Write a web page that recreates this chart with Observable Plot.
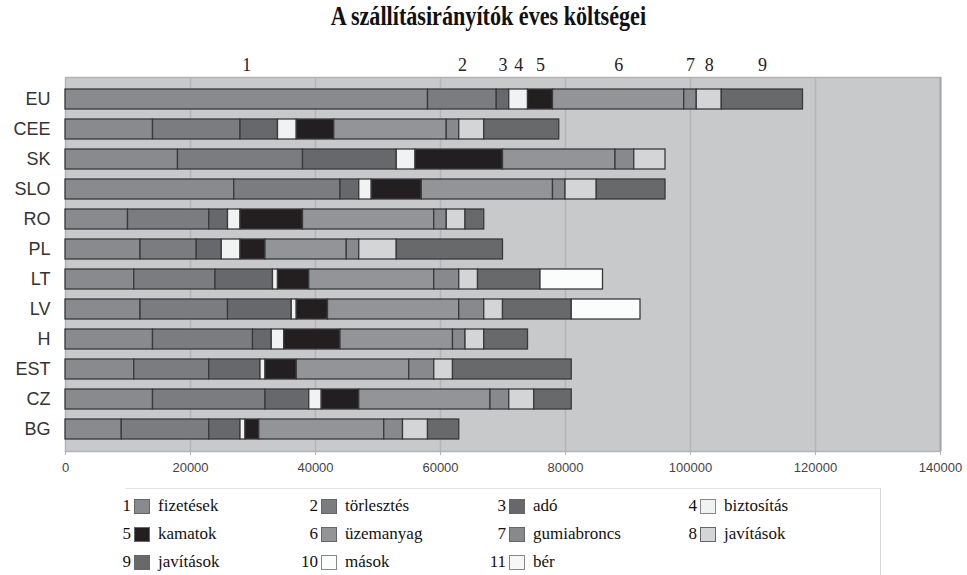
<!DOCTYPE html>
<html>
<head>
<meta charset="utf-8">
<script src="https://cdn.jsdelivr.net/npm/d3@7"></script>
<script src="https://cdn.jsdelivr.net/npm/@observablehq/plot@0.6"></script>
<style>
  body { margin: 0; background: #fff; width: 967px; height: 575px; overflow: hidden; position: relative; }
  #title { position: absolute; left: 0; top: 1px; width: 967px; padding-left: 10px; box-sizing: border-box; text-align: center; }
  #title span { display: inline-block; font-family: "Liberation Serif", serif; font-weight: bold; font-size: 27px; color: #111; transform: scaleX(0.82); }
  #chart { position: absolute; left: 0; top: 36px; }
  #legend { position: absolute; left: 125px; top: 488px; width: 755px; height: 90px; border-top: 1px solid #e2e2e2; border-right: 1px solid #d8d8d8; }
  .num, .lab { position: absolute; font-family: "Liberation Serif", serif; font-size: 17px; color: #111; line-height: 20px; white-space: nowrap; }
  .num { text-align: right; width: 30px; }
  .sw { position: absolute; width: 14px; height: 13px; border: 1px solid #666; }
</style>
</head>
<body>
<div id="title"><span>A szállításirányítók éves költségei</span></div>
<div id="chart"></div>
<div id="legend"></div>
<script>
// ---- data ----
const countries = ["EU", "CEE", "SK", "SLO", "RO", "PL", "LT", "LV", "H", "EST", "CZ", "BG"];
const categoryNums = ["1", "2", "3", "4", "5", "6", "7", "8", "9", "10", "11"];
const categoryLabels = ["fizetések", "törlesztés", "adó", "biztosítás", "kamatok", "üzemanyag", "gumiabroncs", "javítások", "javítások", "mások", "bér"];
const categoryColors = ["#898a8d", "#7b7c7f", "#67686b", "#f1f2f2", "#231f20", "#939497", "#88898c", "#d4d5d6", "#68696b", "#fbfcfc", "#f6f7f7"];

const fizetesek   = [58000, 14000, 18000, 27000, 10000, 12000, 11000, 12000, 14000, 11000, 14000, 9000];
const torlesztes  = [11000, 14000, 20000, 17000, 13000, 9000, 13000, 14000, 16000, 12000, 18000, 14000];
const ado         = [2000, 6000, 15000, 3000, 3000, 4000, 9200, 10200, 3000, 8200, 7000, 5000];
const biztositas  = [3000, 3000, 3000, 2000, 2000, 3000, 800, 800, 2000, 800, 2000, 800];
const kamatok     = [4000, 6000, 14000, 8000, 10000, 4000, 5000, 5000, 9000, 5000, 6000, 2200];
const uzemanyag   = [21000, 18000, 18000, 21000, 21000, 13000, 20000, 21000, 18000, 18000, 21000, 20000];
const gumiabroncs = [2000, 2000, 3000, 2000, 2000, 2000, 4000, 4000, 2000, 4000, 3000, 3000];
const javitasok8  = [4000, 4000, 5000, 5000, 3000, 6000, 3000, 3000, 3000, 3000, 4000, 4000];
const javitasok9  = [13000, 12000, 0, 11000, 3000, 17000, 10000, 11000, 7000, 19000, 6000, 5000];
const masok       = [0, 0, 0, 0, 0, 0, 10000, 11000, 0, 0, 0, 0];
const ber         = [0, 0, 0, 0, 0, 0, 0, 0, 0, 0, 0, 0];

const xTicks = [0, 20000, 40000, 60000, 80000, 100000, 120000, 140000];

// ---- table ----
const series = [fizetesek, torlesztes, ado, biztositas, kamatok, uzemanyag, gumiabroncs, javitasok8, javitasok9, masok, ber];
const rows = [];
countries.forEach((c, ci) => {
  series.forEach((s, si) => {
    rows.push({country: c, key: categoryNums[si], value: s[ci]});
  });
});
const data = rows.filter(d => d.value > 0);
const euData = data.filter(d => d.country === "EU");

const chart = Plot.plot({
  width: 967,
  height: 446,
  marginLeft: 65,
  marginRight: 27,
  marginTop: 41,
  marginBottom: 31,
  style: {fontFamily: "Liberation Sans, Arial, sans-serif", background: "transparent"},
  x: {domain: [0, 140000], label: null, axis: null},
  y: {domain: countries, padding: 0.33, label: null, axis: null},
  color: {domain: categoryNums, range: categoryColors},
  marks: [
    Plot.frame({fill: "#c8c9cb", stroke: null}),
    Plot.gridX(xTicks.slice(1, -1), {stroke: "#b4b5b7", strokeOpacity: 1, strokeWidth: 1.5}),
    Plot.frame({stroke: "#b2b3b5", strokeWidth: 1.5}),
    Plot.ruleX([140000], {stroke: "#a6a7a9", strokeWidth: 2}),
    Plot.barX(data, Plot.stackX({y: "country", x: "value", fill: "key", stroke: "#3a3a3c", strokeWidth: 1.3})),
    Plot.text(euData, Plot.stackX({x: "value", y: "country", text: "key", dy: -34, fontFamily: "Liberation Serif, serif", fontSize: 18, fill: "#222"})),
    Plot.axisX({ticks: xTicks, tickFormat: d => String(d), tickSize: 4, tickPadding: 7, stroke: "#b5b5b5", fill: "#444", fontSize: 13, label: null}),
    Plot.axisY({tickSize: 0, tickPadding: 15, fontSize: 18, fill: "#333", label: null})
  ]
});
document.getElementById("chart").appendChild(chart);

// ---- legend ----
const legend = document.getElementById("legend");
const colX = [9, 196, 384, 575];
const rowY = [7, 35, 63];
categoryNums.forEach((n, i) => {
  const cx = colX[i % 4], ry = rowY[Math.floor(i / 4)];
  const num = document.createElement("div");
  num.className = "num"; num.textContent = n;
  num.style.left = (cx - 33) + "px"; num.style.top = ry + "px";
  const sw = document.createElement("div");
  sw.className = "sw"; sw.style.background = categoryColors[i];
  sw.style.left = cx + "px"; sw.style.top = (ry + 3) + "px";
  if (i === 3 || i >= 9) sw.style.borderColor = "#888";
  const lab = document.createElement("div");
  lab.className = "lab"; lab.textContent = categoryLabels[i];
  lab.style.left = (cx + 24) + "px"; lab.style.top = ry + "px";
  legend.append(num, sw, lab);
});
</script>
</body>
</html>
